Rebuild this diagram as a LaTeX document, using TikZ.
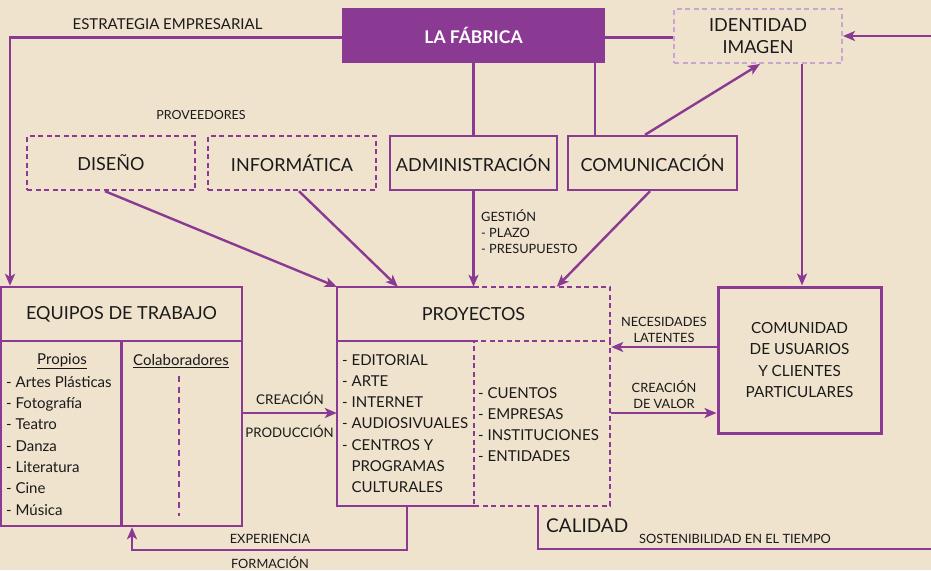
\documentclass[tikz,border=0pt]{standalone}
\usepackage{fontspec}
\setmainfont{Lato}
\usetikzlibrary{arrows.meta,calc}
\definecolor{bg}{HTML}{EFE3CD}
\definecolor{pur}{HTML}{8B3A94}
\definecolor{lpur}{HTML}{C9A6D2}
\definecolor{ink}{HTML}{1A1A1A}
\begin{document}
\begin{tikzpicture}[x=1pt,y=-1pt,
  ln/.style={draw=pur, line width=2.4pt},
  arr/.style={ln, -{Stealth[length=12pt,width=10pt,inset=3pt]}},
  dsh/.style={dash pattern=on 5pt off 3.5pt},
  bx/.style={ln, inner sep=0pt, minimum width=168pt, minimum height=54pt, text=ink, font=\fontsize{18}{22}\selectfont},
  big/.style={text=ink, font=\fontsize{18}{22}\selectfont, inner sep=0pt},
  mid/.style={text=ink, font=\fontsize{15}{21.3}\selectfont, inner sep=0pt, align=left},
  sml/.style={text=ink, font=\fontsize{12.8}{16}\selectfont, inner sep=0pt, align=center}]
\fill[bg] (0,0) rectangle (931,570);
\useasboundingbox (0,0) rectangle (931,570);

% top nodes
\node[fill=pur, inner sep=0pt, minimum width=263pt, minimum height=55pt, text=white,
  font=\bfseries\fontsize{17.5}{20}\selectfont] (fab) at (473.5,35.5) {LA FÁBRICA};
\node[bx, draw=lpur, dsh, line width=2pt, align=center] (ide) at (758,36) {IDENTIDAD\\IMAGEN};
\node[bx, dsh] (dis) at (111,163) {DISEÑO};
\node[bx, dsh] (inf) at (292,163) {INFORMÁTICA};
\node[bx, minimum width=167pt] (adm) at (473.5,163) {ADMINISTRACIÓN};
\node[bx, minimum width=169pt] (com) at (652.5,163) {COMUNICACIÓN};

\node[sml, font=\fontsize{15}{18}\selectfont] (estr) at (167.5,24) {ESTRATEGIA EMPRESARIAL};
\node[sml, font=\fontsize{12.5}{16}\selectfont] (prov) at (201,115) {PROVEEDORES};

% equipos
\node[bx, minimum width=241pt] (equ) at (121.5,314) {EQUIPOS DE TRABAJO};
\node[ln, inner sep=0pt, minimum width=241pt, minimum height=185pt] (equb) at (121.5,433.5) {};
\draw[ln] (equb.north) -- (equb.south);
\node[mid] (prop) at (62,361) {\underline{Propios}};
\node[mid] (cola) at (181,361) {\underline{Colaboradores}};
\node[mid, anchor=north west] (plist) at (6,376) {- Artes Plásticas\\- Fotografía\\- Teatro\\- Danza\\- Literatura\\- Cine\\- Música};
\draw[pur, line width=2.4pt, dash pattern=on 6pt off 4.5pt] (179,376) -- (179,516);

% proyectos
\node[inner sep=0pt, minimum width=273pt, minimum height=54pt, big] (proy) at (473.5,314) {PROYECTOS};
\draw[ln] (proy.south west) -- (proy.north west) -- (proy.north);
\draw[ln, dsh] (proy.north) -- (proy.north east) -- (proy.south east);
\node[inner sep=0pt, minimum width=137pt, minimum height=165pt] (projl) at (405.5,423.5) {};
\node[ln, dsh, inner sep=0pt, minimum width=136pt, minimum height=165pt] (projr) at (542,423.5) {};
\draw[ln] (projl.north east) -- (projl.north west) -- (projl.south west) -- (projl.south east);
\node[mid, anchor=north west] (llist) at (342,354) {- EDITORIAL\\- ARTE\\- INTERNET\\- AUDIOSIVUALES\\- CENTROS Y\\\phantom{- }PROGRAMAS\\\phantom{- }CULTURALES};
\node[mid, anchor=north west] (rlist) at (478,387) {- CUENTOS\\- EMPRESAS\\- INSTITUCIONES\\- ENTIDADES};

% comunidad
\node[draw=pur, line width=3pt, inner sep=0pt, minimum width=163pt, minimum height=146pt, align=center,
  text=ink, font=\fontsize{15.3}{21.5}\selectfont] (cmd) at (799.5,360) {COMUNIDAD\\DE USUARIOS\\Y CLIENTES\\PARTICULARES};

% connectors
\coordinate (tl) at (10,37.5);
\draw[arr] (tl -| fab.west) -- (tl) -- (tl |- equ.north);
\draw[ln] (tl -| fab.east) -- (tl -| ide.west);
\draw[ln] (adm.north |- fab.south) -- (adm.north);
\coordinate (cv) at (595,136);
\draw[ln] (cv |- fab.south) -- (cv |- com.north);
\draw[arr] ([xshift=-7.5pt]com.north) -- ([xshift=2pt]ide.south);
\coordinate (iv) at (802,63);
\draw[arr] (iv |- ide.south) -- (iv |- cmd.north);
\coordinate (rt) at (931,36);
\draw[arr] (rt) -- (ide.east);

\draw[arr] ([xshift=-6pt]dis.south) -- (proy.north west);
\draw[arr] ([xshift=7pt]inf.south) -- ([xshift=61pt]proy.north west);
\draw[arr] (adm.south) -- (adm.south |- proy.north);
\draw[arr] ([xshift=-2.5pt]com.south) -- ([xshift=220pt]proy.north west);
\node[sml, align=left, anchor=north west] (gest) at (481,209) {GESTIÓN\\- PLAZO\\- PRESUPUESTO};

\coordinate (c1) at (0,413);
\draw[arr] (equb.east |- c1) -- (projl.west |- c1);
\node[sml, font=\fontsize{13.4}{16}\selectfont] (crea) at (290,398) {CREACIÓN};
\node[sml, font=\fontsize{13.2}{16}\selectfont] (prod) at (289.5,431) {PRODUCCIÓN};

\coordinate (c2) at (0,347);
\draw[arr] (cmd.west |- c2) -- (projr.east |- c2);
\node[sml] (nece) at (664,329.5) {NECESIDADES\\LATENTES};
\draw[arr] (projr.east |- c1) -- (cmd.west |- c1);
\node[sml] (cval) at (664,395) {CREACIÓN\\DE VALOR};

\coordinate (ex) at (407,550);
\coordinate (ex2) at (132,550);
\draw[arr] (ex |- projl.south) -- (ex) -- (ex2) -- (ex2 |- equb.south);
\node[sml] (expe) at (270,539) {EXPERIENCIA};
\node[sml] (form) at (270,563) {FORMACIÓN};

\coordinate (ca) at (538,549);
\coordinate (ca2) at (931,549);
\draw[ln] (ca |- projr.south) -- (ca) -- (ca2);
\node[big, anchor=west, font=\fontsize{19}{22}\selectfont] (cal) at (546,526) {CALIDAD};
\node[sml] (sost) at (735,539) {SOSTENIBILIDAD EN EL TIEMPO};
\end{tikzpicture}
\end{document}
